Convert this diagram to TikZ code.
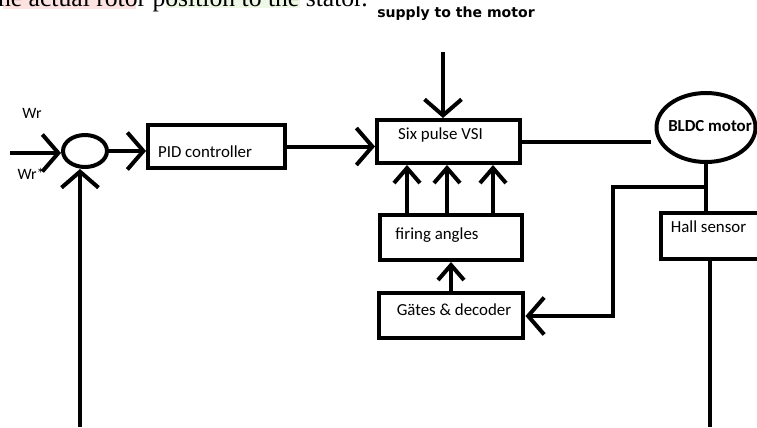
\documentclass[tikz,border=0pt]{standalone}
\usepackage{fontspec}
\setmainfont{Carlito}
\newfontfamily\serif{Liberation Serif}
\newfontfamily\widesans{DejaVu Sans}
\usetikzlibrary{arrows.meta,shapes.geometric}
\definecolor{hlpink}{RGB}{253,226,226}
\definecolor{hlgreen}{RGB}{238,247,230}
\begin{document}
\begin{tikzpicture}[x=0.02cm,y=-0.02cm,line width=0.08cm,
  >={Straight Barb[length=0.32cm,width=0.74cm]},
  small/.style={-{Straight Barb[length=0.3cm,width=0.52cm]}},
  blk/.style={draw,rectangle,inner sep=0pt},
  lbl/.style={font=\fontsize{9.6}{11}\selectfont},
  every node/.append style={line width=0.08cm}]
\useasboundingbox (0,0) rectangle (757,427);
\clip (0,0) rectangle (757,427);
% text of the page above
\fill[hlpink] (3,-5) rectangle (136,9);
\fill[hlgreen] (166,-5) rectangle (300,8);
\node[anchor=base west,inner sep=0pt,font=\serif\fontsize{14.6}{16}\selectfont] (pagetext) at (-4,6) {he actual rotor position to the stator.};
% blocks
\node[draw,ellipse,minimum width=0.88cm,minimum height=0.64cm,inner sep=0pt] (sum) at (85,151) {};
\node[blk,minimum width=2.74cm,minimum height=0.86cm] (pid) at (216.5,146.5) {};
\node[blk,minimum width=2.86cm,minimum height=0.86cm] (vsi) at (448.5,141.5) {};
\node[blk,minimum width=2.84cm,minimum height=0.9cm] (firing) at (451,237.5) {};
\node[blk,minimum width=2.9cm,minimum height=0.9cm] (gates) at (451,315.5) {};
\node[blk,minimum width=2.18cm,minimum height=0.92cm] (hall) at (715.5,236) {};
\node[draw,ellipse,minimum width=1.98cm,minimum height=1.38cm,inner sep=0pt] (motor) at (706,127.5) {};
% texts
\node[lbl] (pidtext) at (205,152) {PID controller};
\node[lbl] (vsitext) at (440.5,135) {Six pulse VSI};
\node[lbl] (firingtext) at (437,235) {firing angles};
\node[lbl] (gatestext) at (454,310) {Gätes \& decoder};
\node[lbl] (halltext) at (708.5,227) {Hall sensor};
\node[lbl,font=\fontsize{9.6}{11}\selectfont\bfseries] (motortext) at (710,126) {BLDC motor};
\node[font=\widesans\fontsize{8}{10}\selectfont\bfseries] (supplytext) at (456,14) {supply to the motor};
\node[font=\fontsize{9}{10}\selectfont] (wr) at (32,113) {Wr};
\node[font=\fontsize{9}{10}\selectfont] (wrs) at (31,174) {Wr*};
% connectors
\coordinate (in) at (10,153);
\coordinate (fb) at (80,427);
\coordinate (sup) at (443,52);
\coordinate (br) at (705,187);
\coordinate (fbk) at (613,316);
\coordinate (out) at (710,427);
\draw[->] (in) -- (in -| sum.west);
\draw[->] (fb) -- (fb |- sum.south);
\draw[->] (sum.east) -- (sum.east -| pid.west);
\draw[->] (pid.east) -- (pid.east -| vsi.west);
\draw[->] (sup) -- (sup |- vsi.north);
\draw[shorten >=0.08cm] (vsi.east) -- (vsi.east -| motor.west);
\draw (motor.south) -- (motor.south |- hall.north);
\draw[->] (br) -- (br -| fbk) -- (fbk) -- (fbk -| gates.east);
\draw (hall.south -| out) -- (out);
\foreach \x in {407,447,493}
  \draw[small] (firing.north -| \x,0) -- (vsi.south -| \x,0);
\draw[small] (gates.north) -- (firing.south);
\end{tikzpicture}
\end{document}
